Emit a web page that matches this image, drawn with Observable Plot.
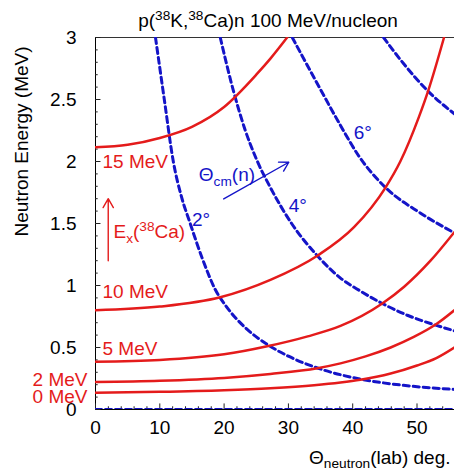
<!DOCTYPE html>
<html><head><meta charset="utf-8">
<script src="https://cdn.jsdelivr.net/npm/d3@7"></script>
<script src="https://cdn.jsdelivr.net/npm/@observablehq/plot@0.6"></script>
<style>html,body{margin:0;padding:0;background:#fff}#chart svg{display:block}</style>
</head><body><div id="chart"></div>
<script>
// ---- tick labels ----
const xTickValues = [0, 10, 20, 30, 40, 50];
const xTickLabels = ["0", "10", "20", "30", "40", "50"];
const yTickValues = [0, 0.5, 1, 1.5, 2, 2.5, 3];
const yTickLabels = ["0", "0.5", "1", "1.5", "2", "2.5", "3"];

// ---- red curves: neutron energy vs lab angle for Ex(38Ca) ----
const exNames = ["0 MeV", "2 MeV", "5 MeV", "10 MeV", "15 MeV"];
const theta_Ex0  = [0, 10, 20, 27.2, 34, 38.1, 41.2, 45.9, 50, 53, 55.8];
const energy_Ex0 = [0.136, 0.143, 0.156, 0.172, 0.196, 0.218, 0.24, 0.29, 0.355, 0.415, 0.50];
const theta_Ex2  = [0, 10, 20, 27.2, 34.5, 38.1, 42, 45.9, 49.5, 52.9, 55.8];
const energy_Ex2 = [0.222, 0.232, 0.255, 0.287, 0.333, 0.372, 0.428, 0.50, 0.585, 0.685, 0.80];
const theta_Ex5  = [0, 10, 20, 26.7, 33, 38.1, 44.6, 48, 52.1, 55.8];
const energy_Ex5 = [0.386, 0.40, 0.445, 0.51, 0.59, 0.674, 0.855, 0.99, 1.2, 1.43];
const theta_Ex10  = [0, 10, 19.4, 27.2, 34.5, 40.2, 45.1, 47.4, 50.3, 51.8, 54.2];
const energy_Ex10 = [0.80, 0.83, 0.905, 1.045, 1.24, 1.47, 1.79, 2.0, 2.36, 2.58, 3.0];
const theta_Ex15  = [0, 5, 10, 15, 20, 25, 27.2, 29.8];
const energy_Ex15 = [2.115, 2.135, 2.19, 2.28, 2.44, 2.70, 2.83, 3.0];

// ---- blue dashed curves: constant CM angle ----
const cmNames = ["0°", "2°", "4°", "6°", "8°"];
const theta_cm0  = [0, 55.8];
const energy_cm0 = [0, 0];
const theta_cm2  = [9.33, 10.7, 12.1, 13.4, 14.6, 16.6, 18.6, 20.5, 23.5, 26.7, 30, 34.5, 41.2, 47.9, 55.8];
const energy_cm2 = [3.0, 2.5, 2.0, 1.71, 1.52, 1.22, 0.97, 0.82, 0.65, 0.525, 0.43, 0.335, 0.245, 0.195, 0.162];
const theta_cm4  = [19.4, 21.5, 23.3, 25.1, 27.2, 30.5, 34.5, 38.1, 41.2, 44.6, 48.5, 52.9, 55.8];
const energy_cm4 = [3.0, 2.56, 2.25, 2.01, 1.79, 1.5, 1.24, 1.06, 0.955, 0.855, 0.76, 0.68, 0.635];
const theta_cm6  = [30.6, 35.0, 38.0, 41.0, 45.1, 50.5, 55.8];
const energy_cm6 = [3.0, 2.58, 2.30, 2.04, 1.79, 1.585, 1.425];
const theta_cm8  = [44.8, 47.9, 51.6, 55.8];
const energy_cm8 = [3.0, 2.79, 2.573, 2.385];

// ---- build tables ----
const redSets = [[theta_Ex0, energy_Ex0], [theta_Ex2, energy_Ex2], [theta_Ex5, energy_Ex5], [theta_Ex10, energy_Ex10], [theta_Ex15, energy_Ex15]];
const blueSets = [[theta_cm0, energy_cm0], [theta_cm2, energy_cm2], [theta_cm4, energy_cm4], [theta_cm6, energy_cm6], [theta_cm8, energy_cm8]];
const redRows = redSets.flatMap(([t, e], k) => t.map((v, i) => ({theta: v, E: e[i], s: exNames[k]})));
const blueRows = blueSets.flatMap(([t, e], k) => t.map((v, i) => ({theta: v, E: e[i], s: cmNames[k]})));

const RED = "#e41b1b", BLUE = "#1414c8";
const FS = 19;
const FONT = "'Liberation Sans', Arial, Helvetica, sans-serif";

const xMinor = d3.range(0, 56, 2).filter(d => d % 10 !== 0);
const yMinor = d3.range(0, 31).map(d => d / 10).filter(d => Math.round(d * 10) % 5 !== 0);

function exLabel(k, anchor, dx, dy) {
  const [t, e] = redSets[k];
  return Plot.text([exNames[k]], {x: t[0], y: e[0], text: d => d, fill: RED, fontSize: FS,
    textAnchor: anchor, lineAnchor: "bottom", dx, dy});
}

const chart = Plot.plot({
  width: 454, height: 473,
  marginLeft: 95, marginRight: 0, marginTop: 37, marginBottom: 64,
  style: {fontFamily: FONT, fontSize: FS + "px", background: "#fff", color: "#000"},
  x: {domain: [0, 55.83], label: null},
  y: {domain: [0, 3], label: null},
  marks: [
    Plot.ruleY([3], {stroke: "#333", strokeWidth: 1}),
    Plot.ruleX([0], {stroke: "#000", strokeWidth: 1}),
    Plot.ruleY([0], {stroke: "#000", strokeWidth: 1}),
    Plot.ruleX(xTickValues, {x: d => d, y1: 0, y2: 0.045, stroke: "#222"}),
    Plot.ruleX(xMinor, {x: d => d, y1: 0, y2: 0.022, stroke: "#222"}),
    Plot.ruleY(yTickValues, {y: d => d, x1: 0, x2: 0.85, stroke: "#222"}),
    Plot.ruleY(yMinor, {y: d => d, x1: 0, x2: 0.42, stroke: "#222"}),
    Plot.line(blueRows, {x: "theta", y: "E", z: "s", stroke: BLUE, strokeWidth: 3, strokeDasharray: "6,4", curve: "monotone-x", clip: true}),
    Plot.line(redRows, {x: "theta", y: "E", z: "s", stroke: RED, strokeWidth: 2.5, curve: "monotone-x", clip: true}),
    exLabel(4, "start", 7, 21),
    exLabel(3, "start", 7, -12.5),
    exLabel(2, "start", 7, -6.5),
    exLabel(1, "end", -8, 4),
    exLabel(0, "end", -8, 10),
    Plot.text(["E_{x}(^{38}Ca)"], {x: 2.8, y: 1.385, text: d => d, fill: RED, fontSize: FS, textAnchor: "start", lineAnchor: "bottom"}),
    Plot.arrow([0], {x1: 1.98, y1: 1.2, x2: 1.98, y2: 1.70, stroke: RED, strokeWidth: 1.4, headLength: 11}),
    Plot.text(["2°"], {x: 15.0, y: 1.482, text: d => d, fill: BLUE, fontSize: FS, textAnchor: "start", lineAnchor: "bottom"}),
    Plot.text(["4°"], {x: 30.06, y: 1.59, text: d => d, fill: BLUE, fontSize: FS, textAnchor: "start", lineAnchor: "bottom"}),
    Plot.text(["6°"], {x: 40.17, y: 2.183, text: d => d, fill: BLUE, fontSize: FS, textAnchor: "start", lineAnchor: "bottom"}),
    Plot.text(["Θ_{cm}(n)"], {x: 16.07, y: 1.846, text: d => d, fill: BLUE, fontSize: FS, textAnchor: "start", lineAnchor: "bottom"}),
    Plot.arrow([0], {x1: 19.94, y1: 1.698, x2: 30.06, y2: 1.994, stroke: BLUE, strokeWidth: 1.4, headLength: 11}),
    Plot.axisX({ticks: xTickValues, tickFormat: (d, i) => xTickLabels[i], tickSize: 0, tickPadding: 11, fontSize: FS, label: null}),
    Plot.axisY({ticks: yTickValues, tickFormat: (d, i) => yTickLabels[i], tickSize: 0, tickPadding: 19, fontSize: FS, label: null}),
    Plot.text(["p(^{38}K,^{38}Ca)n 100 MeV/nucleon"], {frameAnchor: "top", text: d => d, dx: -7, dy: -11, lineAnchor: "bottom", fontSize: FS, fill: "#000"}),
    Plot.text(["Θ_{neutron}(lab) deg."], {frameAnchor: "bottom-right", text: d => d, dx: -4, dy: 54, textAnchor: "end", lineAnchor: "bottom", fontSize: FS, fill: "#000"}),
    Plot.text(["Neutron Energy (MeV)"], {frameAnchor: "top-left", text: d => d, dx: -68, dy: 199, rotate: -90, textAnchor: "start", lineAnchor: "bottom", fontSize: FS, fill: "#000"})
  ]
});

function rich(s, fs) {
  let out = "", pend = 0, last = 0, m;
  const re = /([_^])\{([^}]*)\}/g;
  const esc = t => t.replace(/&/g, "&amp;").replace(/</g, "&lt;");
  while ((m = re.exec(s))) {
    if (m.index > last) { out += `<tspan dy="${pend}">${esc(s.slice(last, m.index))}</tspan>`; pend = 0; }
    const sh = m[1] === "^" ? -0.36 * fs : 0.26 * fs;
    out += `<tspan dy="${pend + sh}" font-size="${0.72 * fs}">${esc(m[2])}</tspan>`;
    pend = -sh;
    last = re.lastIndex;
  }
  if (last < s.length) out += `<tspan dy="${pend}">${esc(s.slice(last))}</tspan>`;
  return out;
}
chart.querySelectorAll("text").forEach(t => {
  const s = t.textContent;
  if (/[_^]\{/.test(s)) t.innerHTML = rich(s, FS);
});
document.getElementById("chart").append(chart);
</script>
</body></html>
